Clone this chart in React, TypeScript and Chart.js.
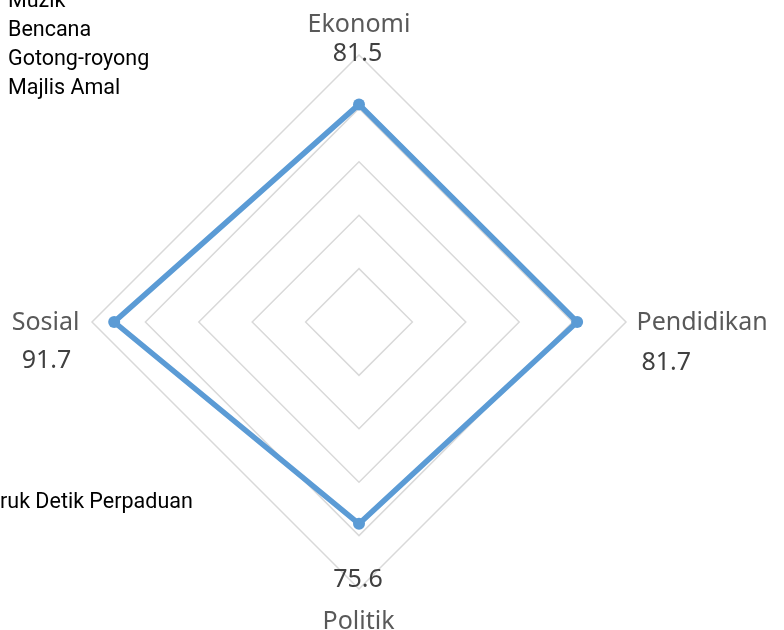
import React, { useEffect, useRef } from "react";
import { Chart, registerables } from "chart.js";

Chart.register(...registerables);

const categories = ["Ekonomi", "Pendidikan", "Politik", "Sosial"];
const seriesValues = [81.5, 81.7, 75.6, 91.7];
const legendItems = ["Muzik", "Bencana", "Gotong-royong", "Majlis Amal"];
const seriesName = "ruk Detik Perpaduan";

const LABEL_FONT = '25px "Noto Sans", sans-serif';
const LEGEND_FONT = '21.5px Roboto, sans-serif';

const vertexLabels = {
  id: "vertexLabels",
  afterDraw(chart: any) {
    const scale = chart.scales.r;
    const ctx = chart.ctx as CanvasRenderingContext2D;
    const R = scale.drawingArea;
    ctx.save();
    ctx.font = LABEL_FONT;
    ctx.textBaseline = "alphabetic";
    const draw = (t: string, x: number, y: number, align: CanvasTextAlign, color: string) => {
      ctx.fillStyle = color;
      ctx.textAlign = align;
      ctx.fillText(t, x, y);
    };
    const nameCol = "#595959";
    const valCol = "#404040";
    categories.forEach((name, i) => {
      const p = scale.getPointPosition(i, R);
      const v = seriesValues[i].toFixed(1);
      if (i === 0) {
        draw(name, p.x, p.y - 23, "center", nameCol);
        draw(v, p.x - 1.5, p.y + 6, "center", valCol);
      } else if (i === 1) {
        draw(name, p.x + 10.5, p.y + 7.5, "left", nameCol);
        draw(v, p.x + 15.5, p.y + 47.5, "left", valCol);
      } else if (i === 2) {
        draw(v, p.x - 1, p.y - 2.5, "center", valCol);
        draw(name, p.x - 0.5, p.y + 39.5, "center", nameCol);
      } else {
        draw(name, p.x - 12.5, p.y + 8, "right", nameCol);
        draw(v, p.x - 45.5, p.y + 45.5, "center", valCol);
      }
    });
    // cut-off legend of the original figure
    ctx.font = LEGEND_FONT;
    ctx.fillStyle = "#000000";
    ctx.textAlign = "left";
    legendItems.forEach((t, i) => {
      ctx.fillText(t, 8, 7 + i * 29);
    });
    ctx.fillText(seriesName, 0, 508);
    ctx.restore();
  },
};

export default function App() {
  const ref = useRef<HTMLCanvasElement | null>(null);
  useEffect(() => {
    document.body.style.margin = "0";
    if (!ref.current) return;
    const chart = new Chart(ref.current, {
      type: "radar",
      data: {
        labels: categories,
        datasets: [
          {
            label: seriesName,
            data: seriesValues,
            borderColor: "#5B9BD5",
            backgroundColor: "#5B9BD5",
            pointBackgroundColor: "#5B9BD5",
            pointBorderColor: "#5B9BD5",
            borderWidth: 5.5,
            pointRadius: 6,
            pointBorderWidth: 0,
            fill: false,
          },
        ],
      },
      options: {
        animation: false,
        responsive: false,
        devicePixelRatio: 1,
        layout: { padding: { left: 92, right: 157, top: 55, bottom: 40 } },
        plugins: { legend: { display: false }, tooltip: { enabled: false } },
        scales: {
          r: {
            min: 0,
            max: 100,
            ticks: { display: false, stepSize: 20 },
            angleLines: { display: false },
            grid: { color: "#D9D9D9", lineWidth: 1.5 },
            pointLabels: { display: false },
          },
        },
      },
      plugins: [vertexLabels],
    });
    return () => chart.destroy();
  }, []);
  return <canvas ref={ref} width={784} height={630} style={{ display: "block" }} />;
}
